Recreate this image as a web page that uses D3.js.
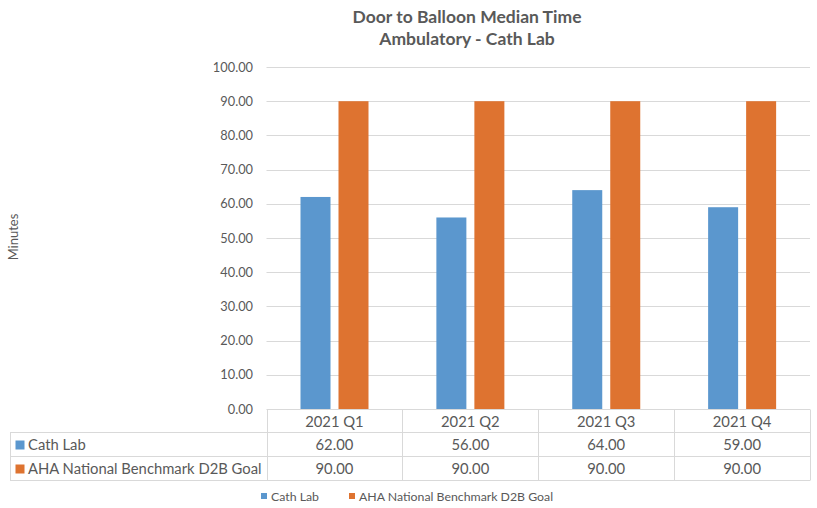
<!DOCTYPE html>
<html><head><meta charset="utf-8">
<script src="https://cdn.jsdelivr.net/npm/d3@7"></script>
<style>body{margin:0;background:#fff}svg{display:block}text{font-family:Lato,"Open Sans",sans-serif;fill:#595959}</style>
</head><body><svg id="c" width="817" height="508"></svg>
<script>
const categories = ["2021 Q1","2021 Q2","2021 Q3","2021 Q4"];
const seriesNames = ["Cath Lab","AHA National Benchmark D2B Goal"];
const cathLab = [62,56,64,59];
const benchmark = [90,90,90,90];
const yTicks = [0,10,20,30,40,50,60,70,80,90,100];
const titleLines = ["Door to Balloon Median Time","Ambulatory - Cath Lab"];
const yLabel = "Minutes";
const colors = ["#5B97CE","#DE7330"];

(function(){
const seriesVals = [cathLab, benchmark];
const svg = d3.select("#c");
const pLeft = 266.5, pRight = 810, pTop = 67, pBottom = 409;
const grid = "#d9d9d9";

const y = d3.scaleLinear().domain([0,100]).range([pBottom, pTop]);
const x0 = d3.scaleBand().domain(categories).range([pLeft, pRight]);
const x1 = d3.scaleBand().domain(seriesNames).range([34, 102]).paddingInner(8/38);

svg.append("g").selectAll("line").data(yTicks.filter(d=>d>0)).join("line")
  .attr("x1", pLeft).attr("x2", pRight)
  .attr("y1", d=>Math.round(y(d))+0.5).attr("y2", d=>Math.round(y(d))+0.5)
  .attr("stroke", grid).attr("stroke-width",1);

svg.append("g").selectAll("text").data(yTicks).join("text")
  .attr("x", 253).attr("y", d=>y(d)+4.5)
  .attr("text-anchor","end").attr("font-size","12.8px")
  .text(d=>d3.format(".2f")(d));

categories.forEach((c,i)=>{
  seriesNames.forEach((s,j)=>{
    svg.append("rect")
      .attr("x", x0(c)+x1(s)).attr("width", x1.bandwidth())
      .attr("y", y(seriesVals[j][i])).attr("height", y(0)-y(seriesVals[j][i]))
      .attr("fill", colors[j]);
  });
});

svg.append("g").selectAll("text").data(titleLines).join("text")
  .attr("x", 467).attr("y", (d,i)=>22.5+i*22.5)
  .attr("text-anchor","middle").attr("font-size","17.5px").attr("font-weight","bold")
  .text(d=>d);

svg.append("text").attr("transform","translate(18,237) rotate(-90)")
  .attr("text-anchor","middle").attr("font-size","13px").text(yLabel);

const tLeft = 10;
const tg = svg.append("g");
tg.append("line").attr("x1",pLeft).attr("x2",pRight).attr("y1",409.5).attr("y2",409.5).attr("stroke",grid);
[432.5,456.5,480.5].forEach(yy=>{
  tg.append("line").attr("x1",tLeft).attr("x2",pRight).attr("y1",yy).attr("y2",yy).attr("stroke",grid);
});
tg.append("line").attr("x1",tLeft+0.5).attr("x2",tLeft+0.5).attr("y1",432.5).attr("y2",480.5).attr("stroke",grid);
const colEdges = categories.map(c=>x0(c)).concat([pRight]);
colEdges.forEach(xx=>{
  tg.append("line").attr("x1",Math.round(xx)+0.5).attr("x2",Math.round(xx)+0.5).attr("y1",409.5).attr("y2",480.5).attr("stroke",grid);
});
tg.selectAll("text.h").data(categories).join("text").attr("class","h")
  .attr("x", d=>x0(d)+x0.bandwidth()/2).attr("y", 426.5)
  .attr("text-anchor","middle").attr("font-size","14.8px").text(d=>d);
seriesNames.forEach((s,j)=>{
  const cy = [444.5, 468.5][j];
  tg.append("rect").attr("x",15.5).attr("y",cy-4).attr("width",9).attr("height",9).attr("fill",colors[j]);
  tg.append("text").attr("x",28).attr("y",cy+5.5).attr("font-size","14.8px").text(s);
  categories.forEach((c,i)=>{
    tg.append("text").attr("x",x0(c)+x0.bandwidth()/2).attr("y",cy+5.5)
      .attr("text-anchor","middle").attr("font-size","14.8px").text(d3.format(".2f")(seriesVals[j][i]));
  });
});

const legX = [261, 349];
seriesNames.forEach((s,j)=>{
  svg.append("rect").attr("x",legX[j]).attr("y",493).attr("width",6).attr("height",6).attr("fill",colors[j]);
  svg.append("text").attr("x",legX[j]+10).attr("y",500.5).attr("font-size","12.3px").text(s);
});
})();
</script></body></html>
